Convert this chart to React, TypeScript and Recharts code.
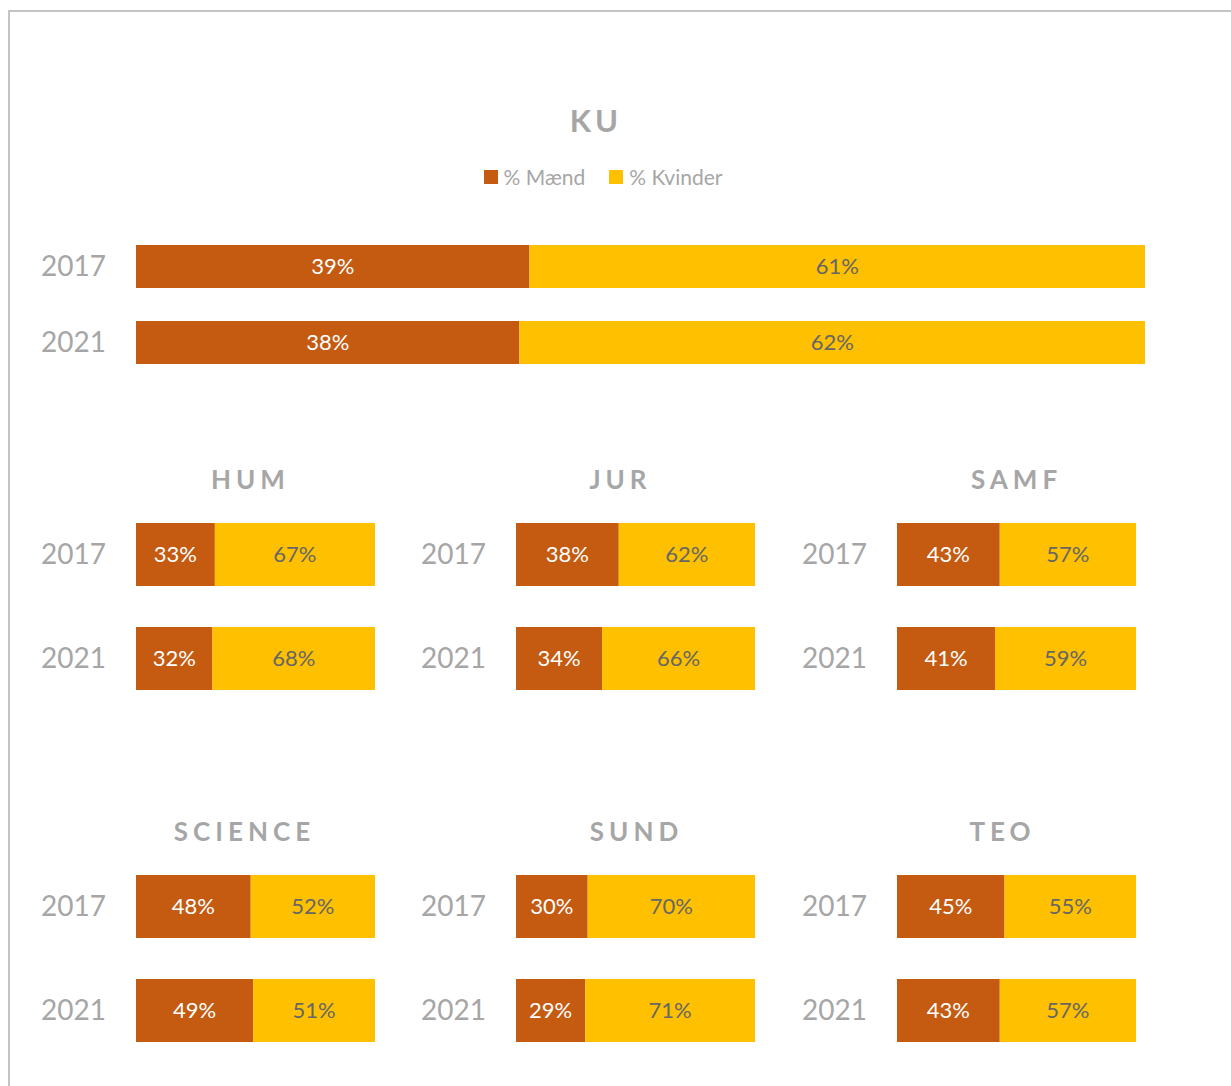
import React from 'react';
import { BarChart, Bar, XAxis, YAxis, LabelList } from 'recharts';

// years on the category axis
const years = ['2017', '2021'];

// KU total
const kuMaend = [39, 38];
const kuKvinder = [61, 62];

// faculties
const humMaend = [33, 32];
const humKvinder = [67, 68];
// JUR: bars are drawn at these lengths, but the labels show other numbers
const jurMaend = [43, 36];
const jurKvinder = [57, 64];
const jurMaendLabels = [38, 34];
const jurKvinderLabels = [62, 66];
const samfMaend = [43, 41];
const samfKvinder = [57, 59];
const scienceMaend = [48, 49];
const scienceKvinder = [52, 51];
const sundMaend = [30, 29];
const sundKvinder = [70, 71];
const teoMaend = [45, 43];
const teoKvinder = [55, 57];

const seriesNames = ['% Mænd', '% Kvinder'];

const MAEND = '#C55A11';
const KVINDER = '#FFC000';
const GREY = '#a6a6a6';
const LABEL_DARK = '#666666';
const FONT = 'Lato, "Open Sans", sans-serif';

const AXIS_W = 106;

interface PanelProps {
  title: string;
  maend: number[];
  kvinder: number[];
  maendLabels?: number[];
  kvinderLabels?: number[];
  plotLeft: number;
  plotTop: number;
  plotWidth: number;
  band: number;
  barSize: number;
  titleX: number;
  titleTop: number;
  titleSize: number;
  titleSpacing: number;
}

const Panel: React.FC<PanelProps> = (p) => {
  const data = years.map((year, i) => ({
    year,
    m: p.maend[i],
    k: p.kvinder[i],
    mLabel: (p.maendLabels ?? p.maend)[i],
    kLabel: (p.kvinderLabels ?? p.kvinder)[i],
  }));

  return (
    <>
      <div
        style={{
          position: 'absolute',
          left: p.titleX - 200,
          top: p.titleTop,
          width: 400,
          textAlign: 'center',
          fontSize: p.titleSize,
          lineHeight: 1,
          fontWeight: 700,
          letterSpacing: p.titleSpacing,
          paddingLeft: p.titleSpacing,
          boxSizing: 'border-box',
          color: GREY,
        }}
      >
        {p.title}
      </div>
      <div style={{ position: 'absolute', left: p.plotLeft - AXIS_W, top: p.plotTop }}>
        <BarChart
          layout="vertical"
          width={AXIS_W + p.plotWidth}
          height={p.band * years.length}
          data={data}
          margin={{ top: 0, right: 0, bottom: 0, left: 0 }}
          barSize={p.barSize}
        >
          <XAxis type="number" domain={[0, 100]} hide />
          <YAxis
            type="category"
            dataKey="year"
            width={AXIS_W}
            axisLine={false}
            tickLine={false}
            tickSize={0}
            tickMargin={30}
            tick={{ fontSize: 28, fill: GREY }}
          />
          <Bar dataKey="m" stackId="a" fill={MAEND} isAnimationActive={false}>
            <LabelList
              dataKey="mLabel"
              position="center"
              formatter={(v: any) => `${v}%`}
              style={{ fontSize: 22, fill: '#ffffff' }}
            />
          </Bar>
          <Bar dataKey="k" stackId="a" fill={KVINDER} isAnimationActive={false}>
            <LabelList
              dataKey="kLabel"
              position="center"
              formatter={(v: any) => `${v}%`}
              style={{ fontSize: 22, fill: LABEL_DARK }}
            />
          </Bar>
        </BarChart>
      </div>
    </>
  );
};

const small = { plotWidth: 239, band: 104, barSize: 63, titleSize: 26, titleSpacing: 5 };

export default function App() {
  return (
    <div
      style={{
        position: 'fixed',
        left: 0,
        top: 0,
        width: 1231,
        height: 1086,
        overflow: 'hidden',
        background: '#fff',
        fontFamily: FONT,
      }}
    >
      {/* frame */}
      <div
        style={{
          position: 'absolute',
          left: 8,
          top: 10,
          width: 1300,
          height: 1200,
          border: '2px solid #c4c4c4',
        }}
      />

      {/* legend */}
      <div
        style={{
          position: 'absolute',
          left: 303,
          top: 166,
          width: 600,
          display: 'flex',
          justifyContent: 'center',
          gap: 24,
          fontSize: 21,
          lineHeight: '21px',
          color: GREY,
        }}
      >
        {seriesNames.map((name, i) => (
          <div key={name} style={{ display: 'flex', alignItems: 'flex-start' }}>
            <div
              style={{
                width: 14,
                height: 14,
                marginTop: 4,
                marginRight: 6,
                background: i === 0 ? MAEND : KVINDER,
              }}
            />
            <span>{name}</span>
          </div>
        ))}
      </div>

      <Panel
        title="KU"
        maend={kuMaend}
        kvinder={kuKvinder}
        plotLeft={136}
        plotTop={228}
        plotWidth={1009}
        band={76}
        barSize={43}
        titleX={594}
        titleTop={105}
        titleSize={31}
        titleSpacing={4}
      />

      <Panel title="HUM" maend={humMaend} kvinder={humKvinder} plotLeft={136} plotTop={502} titleX={248} titleTop={466} {...small} />
      <Panel
        title="JUR"
        maend={jurMaend}
        kvinder={jurKvinder}
        maendLabels={jurMaendLabels}
        kvinderLabels={jurKvinderLabels}
        plotLeft={516}
        plotTop={502}
        titleX={618}
        titleTop={466}
        {...small}
      />
      <Panel title="SAMF" maend={samfMaend} kvinder={samfKvinder} plotLeft={896.5} plotTop={502} titleX={1014} titleTop={466} {...small} />

      <Panel title="SCIENCE" maend={scienceMaend} kvinder={scienceKvinder} plotLeft={136} plotTop={854} titleX={242} titleTop={818} {...small} />
      <Panel title="SUND" maend={sundMaend} kvinder={sundKvinder} plotLeft={516} plotTop={854} titleX={634} titleTop={818} {...small} />
      <Panel title="TEO" maend={teoMaend} kvinder={teoKvinder} plotLeft={896.5} plotTop={854} titleX={1000} titleTop={818} {...small} />
    </div>
  );
}
